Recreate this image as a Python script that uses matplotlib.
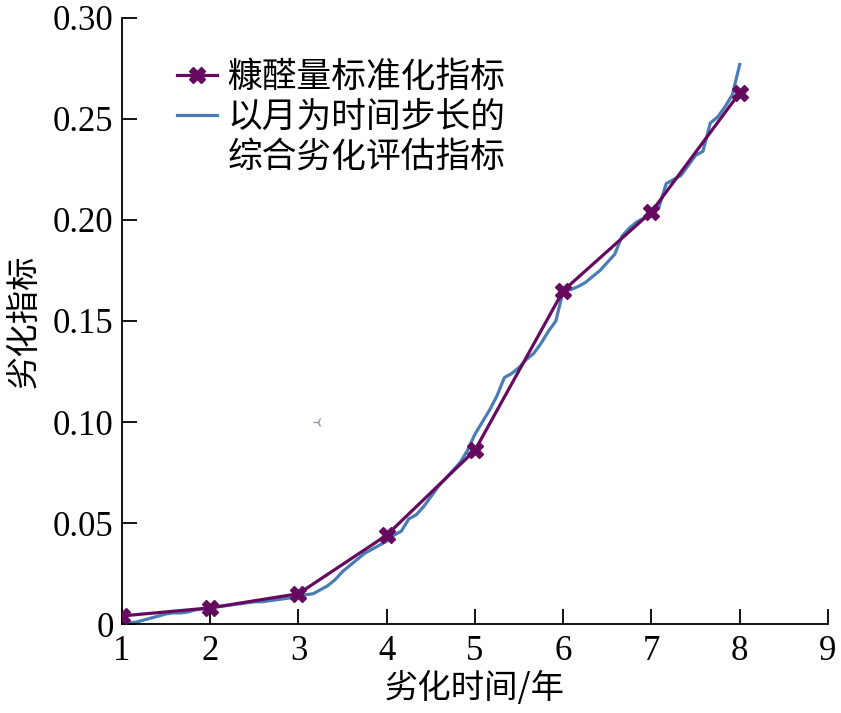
import numpy as np
import matplotlib
matplotlib.use("Agg")
import matplotlib.pyplot as plt

#----------------------#
# Data                 #
#----------------------#

# yearly furfural-based index
years = [1, 2, 3, 4, 5, 6, 7, 8]
furfural_index = [0.004, 0.008, 0.015, 0.044, 0.086, 0.165, 0.204, 0.263]

# monthly comprehensive degradation index (1 + month/12)
monthly_index = [
    0.000, 0.0005, 0.001, 0.002, 0.003, 0.004, 0.005, 0.0055, 0.0055, 0.006, 0.007, 0.0075,
    0.008, 0.0085, 0.009, 0.0095, 0.010, 0.0105, 0.011, 0.011, 0.0115, 0.012, 0.0125, 0.013,
    0.014, 0.0145, 0.015, 0.017, 0.019, 0.022, 0.026, 0.029, 0.032, 0.035, 0.037, 0.039,
    0.041, 0.044, 0.046, 0.052, 0.054, 0.058, 0.063, 0.068, 0.072, 0.076, 0.080, 0.086,
    0.094, 0.100, 0.106, 0.113, 0.122, 0.124, 0.127, 0.131, 0.134, 0.139, 0.145, 0.150,
    0.165, 0.1655, 0.167, 0.169, 0.172, 0.175, 0.179, 0.183, 0.192, 0.196, 0.199, 0.201,
    0.203, 0.206, 0.218, 0.220, 0.222, 0.227, 0.232, 0.234, 0.248, 0.251, 0.256, 0.262,
    0.277,
]
months = [1 + i / 12 for i in range(len(monthly_index))]

label_furfural = "糠醛量标准化指标"
label_monthly = ["以月为时间步长的", "综合劣化评估指标"]

xticks = [1, 2, 3, 4, 5, 6, 7, 8, 9]
yticks = [0, 0.05, 0.10, 0.15, 0.20, 0.25, 0.30]
ytick_labels = ["0", "0.05", "0.10", "0.15", "0.20", "0.25", "0.30"]

#----------------------#
# Plot                 #
#----------------------#

cjk = ["Noto Sans CJK SC", "DejaVu Sans"]
serif = "Liberation Serif"

fig = plt.figure(figsize=(8.41, 7.13), dpi=100)
ax = fig.add_axes([0.145, 0.1248, 0.8395, 0.85])

ax.plot(years, furfural_index, color="#650a5e", lw=2.3, marker="X",
        markersize=11, label=label_furfural, zorder=3)
ax.plot(months, monthly_index, color="#4a7db3", lw=2.3, label=label_monthly[0], zorder=2)
# second line of the blue legend label, with no handle
ax.plot([], [], color="none", label=label_monthly[1])

# small stray mark in the original figure
ax.plot(3.22, 0.10, marker="3", color="#8a9ab5", markersize=7, mew=1)

ax.set_xlim(1, 9)
ax.set_ylim(0, 0.30)
ax.set_xticks(xticks)
ax.set_xticklabels([str(t) for t in xticks], fontname=serif, fontsize=25)
ax.set_yticks(yticks)
ax.set_yticklabels(ytick_labels, fontname=serif, fontsize=25)
ax.tick_params(direction="in", length=11, width=1.3, colors="black")
ax.tick_params(axis="x", pad=8)
ax.tick_params(axis="y", pad=6)

for side in ["top", "right"]:
    ax.spines[side].set_visible(False)
for side in ["left", "bottom"]:
    ax.spines[side].set_linewidth(1.3)

ax.set_xlabel("劣化时间/年", family=cjk, fontsize=24, labelpad=2)
ax.set_ylabel("劣化指标", family=cjk, fontsize=24, labelpad=8)

ax.legend(loc="upper left", bbox_to_anchor=(0.078, 0.93), frameon=False,
          prop={"family": cjk, "size": 25}, handlelength=1.15,
          handletextpad=0.3, borderpad=0, borderaxespad=0, labelspacing=0.14)

fig.savefig("out.png", dpi=100)
